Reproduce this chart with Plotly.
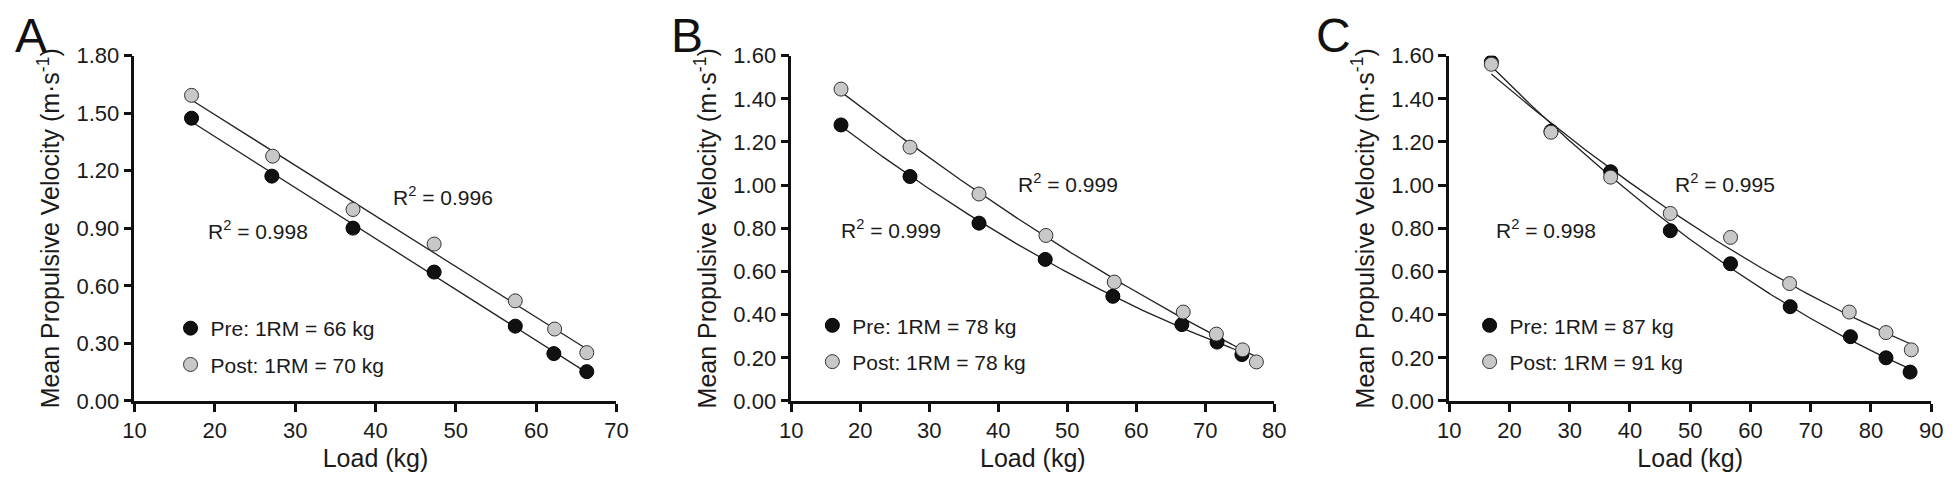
import numpy as np
import plotly.graph_objects as go

W, H = 1957, 488

# ---------------- data ----------------
a_pre_x = [17.1, 27.1, 37.2, 47.3, 57.4, 62.2, 66.3]
a_pre_y = [1.474, 1.172, 0.901, 0.672, 0.390, 0.247, 0.153]
a_post_x = [17.1, 27.2, 37.2, 47.3, 57.4, 62.3, 66.3]
a_post_y = [1.593, 1.276, 0.998, 0.818, 0.522, 0.375, 0.252]

b_pre_x = [17.2, 27.2, 37.2, 46.8, 56.6, 66.6, 71.7, 75.3]
b_pre_y = [1.279, 1.040, 0.824, 0.656, 0.485, 0.354, 0.273, 0.215]
b_post_x = [17.2, 27.2, 37.2, 46.9, 56.8, 66.8, 71.6, 75.4, 77.4]
b_post_y = [1.445, 1.176, 0.959, 0.767, 0.551, 0.412, 0.310, 0.237, 0.181]

c_pre_x = [17.0, 26.9, 36.8, 46.7, 56.7, 66.6, 76.6, 82.5, 86.5]
c_pre_y = [1.570, 1.250, 1.062, 0.789, 0.636, 0.437, 0.298, 0.200, 0.134]
c_post_x = [17.0, 26.9, 36.8, 46.7, 56.7, 66.5, 76.4, 82.5, 86.7]
c_post_y = [1.560, 1.245, 1.037, 0.869, 0.758, 0.544, 0.412, 0.317, 0.237]

pre_labels = ["Pre: 1RM = 66 kg", "Pre: 1RM = 78 kg", "Pre: 1RM = 87 kg"]
post_labels = ["Post: 1RM = 70 kg", "Post: 1RM = 78 kg", "Post: 1RM = 91 kg"]
r2_pre = ["0.998", "0.999", "0.998"]
r2_post = ["0.996", "0.999", "0.995"]
fit_degree = [1, 2, 2]
x_ranges = [[10, 70], [10, 80], [10, 90]]
y_ranges = [[0, 1.8], [0, 1.6], [0, 1.6]]
y_dticks = [0.3, 0.2, 0.2]
panel_letters = ["A", "B", "C"]

# ---------------- layout geometry (pixels) ----------------
x_px = [(124, 612), (789, 1278), (1455, 1943)]
y_px = (46, 410)  # top, bottom
legend_px = [(182.5, 332), (832.3, 329), (1497.7, 329)]
letter_px = [(19, 25), (683, 25), (1338, 25)]
r2_pre_pos = [(18.9, 0.889), (16.9, 0.799), (17.5, 0.799)]
r2_post_pos = [(41.9, 1.070), (42.6, 1.011), (47.2, 1.011)]

FONT = "Arial, Liberation Sans, Helvetica, sans-serif"
TXT = "#1a1a1a"
LINE = "#222222"

fig = go.Figure()
panels = [
    (a_pre_x, a_pre_y, a_post_x, a_post_y),
    (b_pre_x, b_pre_y, b_post_x, b_post_y),
    (c_pre_x, c_pre_y, c_post_x, c_post_y),
]

layout = dict(
    width=W, height=H,
    margin=dict(l=0, r=0, t=0, b=0),
    paper_bgcolor="white", plot_bgcolor="white",
    font=dict(family=FONT, color=TXT),
    annotations=[],
)

for i, (px, py, qx, qy) in enumerate(panels):
    n = "" if i == 0 else str(i + 1)
    xa, ya = "x" + n, "y" + n
    leg = "legend" + n
    # fit lines
    for xs, ys in ((px, py), (qx, qy)):
        coef = np.polyfit(xs, ys, fit_degree[i])
        xf = np.linspace(min(xs), max(xs), 200)
        fig.add_trace(go.Scatter(x=xf, y=np.polyval(coef, xf), mode="lines",
                                 line=dict(color=LINE, width=1.3),
                                 showlegend=False, hoverinfo="skip",
                                 xaxis=xa, yaxis=ya))
    fig.add_trace(go.Scatter(x=px, y=py, mode="markers", name=pre_labels[i],
                             marker=dict(size=14, color="#111111",
                                         line=dict(color="#000000", width=1)),
                             xaxis=xa, yaxis=ya, legend=leg, legendgroup="pre" + n))
    fig.add_trace(go.Scatter(x=qx, y=qy, mode="markers", name=post_labels[i],
                             marker=dict(size=14, color="#c8c8c8",
                                         line=dict(color="#333333", width=1)),
                             xaxis=xa, yaxis=ya, legend=leg, legendgroup="post" + n))

    x0, x1 = x_px[i]
    layout["xaxis" + n] = dict(
        domain=[x0 / W, x1 / W], range=x_ranges[i], dtick=10, tick0=10,
        anchor=ya, showgrid=False, zeroline=False, showline=True,
        linecolor="#111111", linewidth=2.5, ticks="outside", ticklen=8,
        tickwidth=2.5, tickcolor="#111111",
        tickfont=dict(size=22, family=FONT, color=TXT),
        title=dict(text="Load (kg)", font=dict(size=25, family=FONT, color=TXT), standoff=8),
    )
    layout["yaxis" + n] = dict(
        domain=[(H - y_px[1]) / H, (H - y_px[0]) / H], range=y_ranges[i],
        dtick=y_dticks[i], tick0=0, tickformat=".2f",
        anchor=xa, showgrid=False, zeroline=False, showline=True,
        linecolor="#111111", linewidth=2.5, ticks="outside", ticklen=8,
        tickwidth=2.5, tickcolor="#111111",
        tickfont=dict(size=22, family=FONT, color=TXT),
        title=dict(text="Mean Propulsive Velocity (m·s<sup>-1</sup>)",
                   font=dict(size=25, family=FONT, color=TXT), standoff=10),
    )
    lx, ly = legend_px[i]
    layout[leg] = dict(
        x=(lx - 22) / W, xanchor="left",
        y=(H - (ly - 20)) / H, yanchor="top",
        bgcolor="rgba(0,0,0,0)", borderwidth=0,
        font=dict(size=21, family=FONT, color=TXT),
        traceorder="grouped", tracegroupgap=6, itemclick=False,
    )
    layout["annotations"] += [
        dict(x=r2_pre_pos[i][0], y=r2_pre_pos[i][1], xref=xa, yref=ya,
             text="R<sup>2</sup> = " + r2_pre[i], showarrow=False,
             xanchor="left", yanchor="middle",
             font=dict(size=21, family=FONT, color=TXT)),
        dict(x=r2_post_pos[i][0], y=r2_post_pos[i][1], xref=xa, yref=ya,
             text="R<sup>2</sup> = " + r2_post[i], showarrow=False,
             xanchor="left", yanchor="middle",
             font=dict(size=21, family=FONT, color=TXT)),
        dict(x=letter_px[i][0] / W, y=(H - letter_px[i][1]) / H,
             xref="paper", yref="paper", text=panel_letters[i], showarrow=False,
             xanchor="center", yanchor="middle",
             font=dict(size=48, family=FONT, color="#111111")),
    ]

fig.update_layout(**layout)
fig.write_html("out.html",
               config={"displayModeBar": False},
               post_script="document.body.style.margin='0';document.body.style.overflow='hidden';")
